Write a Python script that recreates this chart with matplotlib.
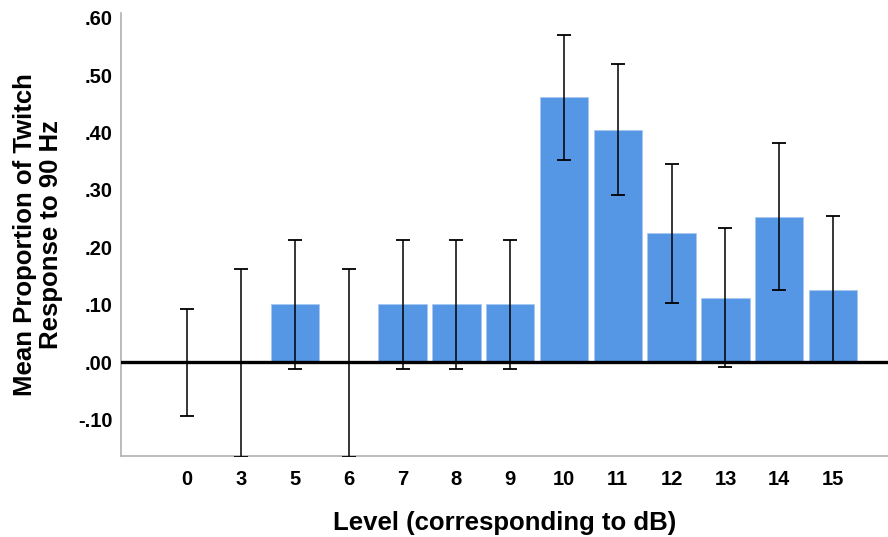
import matplotlib.pyplot as plt
import numpy as np

plt.rcParams["font.family"] = ["Liberation Sans", "DejaVu Sans"]

levels = ["0", "3", "5", "6", "7", "8", "9", "10", "11", "12", "13", "14", "15"]
means = [0.0, 0.0, 0.102, 0.0, 0.102, 0.102, 0.102, 0.461, 0.405, 0.225, 0.112, 0.253, 0.126]
ci_low = [-0.094, -0.165, -0.012, -0.165, -0.012, -0.012, -0.012, 0.352, 0.291, 0.104, -0.008, 0.126, 0.0]
ci_high = [0.093, 0.162, 0.213, 0.162, 0.213, 0.213, 0.213, 0.570, 0.520, 0.345, 0.233, 0.381, 0.254]
yticks = [-0.10, 0.0, 0.10, 0.20, 0.30, 0.40, 0.50, 0.60]

x = np.arange(len(levels))
means = np.array(means)
yerr = [means - np.array(ci_low), np.array(ci_high) - means]

fig = plt.figure(figsize=(8.88, 5.37), dpi=100)
ax = fig.add_axes([121 / 888, 1 - 456 / 537, 1 - 121 / 888, (456 - 13) / 537])

ax.bar(x, means, width=0.9, color="#5596e5", edgecolor="#a9c8f0", linewidth=0.6, zorder=2)
ax.errorbar(x, means, yerr=yerr, fmt="none", ecolor="black", elinewidth=1.1,
            capsize=5, capthick=1.3, zorder=3, clip_on=True)
ax.axhline(0, color="black", linewidth=2.4, zorder=4)

ax.set_xlim(-1.23, 13.02)
ax.set_ylim(-0.163, 0.608)
ax.set_xticks(x)
ax.set_xticklabels(levels, fontsize=14.5, fontweight="bold")
ax.set_yticks(yticks)
ax.set_yticklabels([f"{v:.2f}".replace("0.", ".") for v in yticks], fontsize=14.5, fontweight="bold")
ax.tick_params(axis="y", length=0, pad=6)
ax.tick_params(axis="x", length=0, pad=10)

for s in ["top", "right"]:
    ax.spines[s].set_visible(False)
for s in ["left", "bottom"]:
    ax.spines[s].set_color("#b0b0b0")
    ax.spines[s].set_linewidth(1.2)

ax.set_ylabel("Mean Proportion of Twitch\nResponse to 90 Hz", fontsize=18.5, fontweight="bold",
              labelpad=11, linespacing=1.08)
ax.set_xlabel("Level (corresponding to dB)", fontsize=18.5, fontweight="bold", labelpad=16)

fig.savefig("out.png", dpi=100)
